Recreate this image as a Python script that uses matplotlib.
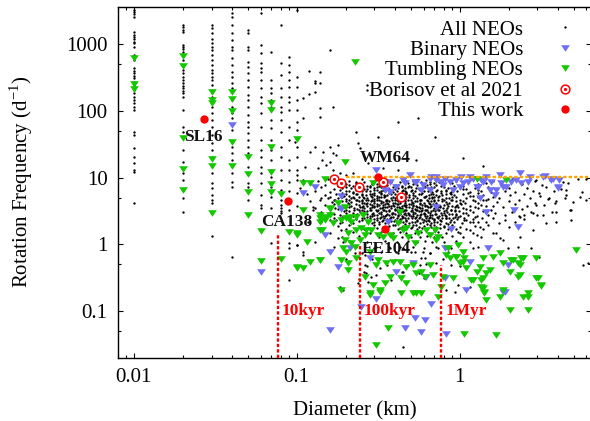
import matplotlib
matplotlib.use('Agg')
import matplotlib.pyplot as plt
from matplotlib.ticker import FixedLocator, FixedFormatter, LogLocator, NullFormatter

plt.rcParams['font.family'] = ['Liberation Serif', 'DejaVu Serif']
plt.rcParams['mathtext.fontset'] = 'custom'
plt.rcParams['mathtext.rm'] = 'Liberation Serif'

# ---------------- data (diameter in km, rotation frequency in 1/day) -------------
# All NEOs: quantised small diameters (columns)
neo_col_D = [0.01, 0.02, 0.03, 0.04, 0.05, 0.06, 0.07, 0.08, 0.09, 0.10]
neo_d010 = [3270, 3020, 2790, 2600, 1514, 1380, 1274, 1189, 1096, 1035, 923, 692, 638, 582,
            437, 403, 367, 335, 309, 275, 245, 226, 207, 184, 164, 146, 130, 116, 104, 49, 43.7,
            27.5, 20.7, 16.4, 13.0, 12.0, 4.1]
neo_d020 = [1950, 1800, 1640, 1514, 977, 923, 841, 776, 692, 582, 490, 412, 367, 327, 292, 260,
            237, 219, 202, 184, 164, 104, 58, 49, 26, 17.4, 11.6, 9.2, 6.5, 4.9, 3.1]
neo_d030 = [1950, 1738, 1462, 1189, 1035, 923, 822, 692, 582, 490, 412, 367, 327, 292, 245, 207,
            164, 116, 92, 73, 58, 43.7, 32.7, 26, 20.7, 11.6, 8.2, 6.9, 5.5, 4.6, 4.1, 1.33]
neo_d040 = [2985, 2600, 1950, 1462, 1161, 923, 822, 617, 490, 389, 327, 260, 219, 146, 116, 92,
            77.6, 51.9, 29.2, 23.2, 18.4, 11.6, 8.7, 7.3, 0.65]
neo_d050 = [1640, 1462, 923, 822, 550, 462, 367, 292, 232, 174, 146, 116, 87, 69, 58, 46, 36.7,
            29.2, 23.2, 14.6, 8.2, 7.3, 4.6]
neo_d060 = [2917, 977, 733, 519, 437, 389, 292, 219, 164, 130, 92, 58, 36.7, 26, 20.7, 14.6, 11.6,
            8.2, 5.5, 3.9, 3.5]
neo_d070 = [776, 292, 219, 184, 146, 116, 73, 55, 36.7, 26, 18.4, 13.0, 10.4, 7.3, 5.2, 3.5, 1.03]
neo_d080 = [1950, 519, 347, 219, 164, 116, 98, 73, 49, 29.2, 20.7, 13.0, 9.2, 6.5, 4.6, 3.9, 3.5,
            3.2, 3.0]
neo_d090 = [653, 490, 389, 292, 232, 164, 138, 104, 58, 36.7, 18.4, 13, 8.7, 6.2, 4.4, 3.27, 1.03,
            0.87, 0.29]
neo_d100 = [3270, 327, 232, 146, 104, 69, 52, 29, 20.7, 13, 9.2, 5.8, 3.7, 0.98]
neo_col_f = [neo_d010, neo_d020, neo_d030, neo_d040, neo_d050, neo_d060, neo_d070, neo_d080,
             neo_d090, neo_d100]

# All NEOs: larger bodies (D, f)
neo_sparse = [
    (0.16, 819), (0.119, 400), (0.139, 387), (0.129, 285), (0.129, 259), (0.139, 259), (0.129, 194),
    (0.119, 179), (0.109, 155), (0.167, 113), (0.139, 109), (0.109, 77.6), (0.139, 80), (0.27, 244),
    (0.27, 207), (0.555, 77.6), (0.418, 69), (0.232, 49), (0.703, 41), (0.315, 41), (0.179, 30.7),
    (0.097, 34.5), (0.129, 29), (0.16, 29), (0.12, 24.5), (0.145, 24.5), (0.167, 23.1), (0.175, 21.8),
    (0.142, 18.4), (0.16, 17.3), (0.238, 32.6), (0.244, 27.4), (0.274, 16.4), (0.542, 18.4),
    (0.112, 14.6), (0.135, 13.8), (0.152, 15.5), (0.167, 13.0), (0.184, 11.6), (0.202, 10.9),
    (0.222, 11.6), (0.338, 13.8), (0.418, 13.0), (0.1, 10.9), (1.05, 19.4), (1.39, 14.9),
    (3.09, 5.8), (3.56, 4.9), (3.83, 4.1), (4.41, 4.9), (4.52, 6.5), (4.96, 4.35), (5.45, 5.2),
    (6.0, 4.6), (4.73, 3.27), (3.9, 3.08), (3.24, 2.75), (2.75, 3.08), (2.5, 2.75), (2.95, 3.9),
    (6.0, 9.7), (2.95, 9.2),
    (0.83, 2.45), (0.93, 2.59), (1.07, 2.31), (1.21, 2.18), (1.33, 1.84), (1.15, 1.64), (1.0, 1.46),
    (1.46, 2.18), (1.89, 2.31), (2.33, 2.59), (2.82, 1.64), (3.4, 2.06), (3.9, 2.18), (4.84, 2.31),
    (1.68, 1.46), (1.84, 1.16), (1.27, 1.38), (1.76, 1.23), (2.33, 1.30), (1.98, 0.87), (2.28, 0.92),
    (2.75, 0.87), (3.09, 0.65), (5.7, 0.49), (6.1, 0.52), (1.21, 0.87), (0.89, 0.49), (0.83, 0.206),
    (0.93, 0.195), (0.98, 0.245), (1.15, 0.23),
    (0.1, 0.98), (0.109, 0.775), (0.109, 0.69), (0.117, 2.18), (0.175, 2.31), (0.184, 2.06),
    (0.179, 1.23), (0.192, 1.09), (0.188, 1.64), (0.227, 0.73), (0.262, 0.49), (0.268, 0.367),
    (0.308, 0.347), (0.274, 0.275), (0.449, 0.39), (0.482, 0.49), (0.569, 0.49), (0.596, 0.775),
    (0.61, 0.62), (0.655, 0.73), (0.72, 0.52), (0.736, 0.87), (0.184, 0.23), (0.238, 0.26),
    (0.323, 0.437), (0.409, 0.775), (0.372, 0.87), (0.308, 0.92), (0.262, 0.69), (0.428, 0.92),
    (0.53, 0.775), (0.126, 3.6), (0.126, 3.3), (0.139, 4.6), (0.156, 4.95), (0.171, 4.6),
    (0.171, 3.5), (0.45, 0.029), (0.192, 0.206), (0.287, 0.32),
]
neo_core = [
    (0.11, 9.3), (0.135, 8.8), (0.155, 9.5), (0.21, 8.9), (0.25, 9.4), (0.29, 8.7), (0.36, 9.1),
    (0.45, 9.6), (0.52, 8.8), (0.62, 9.3), (0.75, 8.6), (0.95, 9.0), (1.2, 9.4), (1.6, 8.9),
    (2.1, 9.5), (2.9, 8.8), (3.6, 9.2), (4.3, 8.7), (5.3, 9.4),
    (0.12, 8.1), (0.15, 7.7), (0.18, 8.3), (0.2, 7.9), (0.23, 8.2), (0.27, 7.6), (0.31, 8.0),
    (0.34, 8.4), (0.4, 7.8), (0.48, 8.2), (0.55, 7.7), (0.66, 8.1), (0.8, 7.9), (0.9, 8.3),
    (1.05, 7.6), (1.3, 8.0), (1.45, 8.3), (1.8, 7.7), (2.4, 8.1), (3.2, 7.8), (4.6, 8.2),
    (0.105, 7.0), (0.14, 7.2), (0.17, 6.8), (0.19, 7.1), (0.215, 6.9), (0.24, 7.3), (0.26, 6.7),
    (0.3, 7.0), (0.33, 7.2), (0.37, 6.8), (0.42, 7.1), (0.46, 6.9), (0.5, 7.3), (0.58, 6.8),
    (0.64, 7.0), (0.7, 7.2), (0.85, 6.9), (1.0, 7.1), (1.1, 6.7), (1.25, 7.0), (1.5, 7.2),
    (1.7, 6.8), (2.0, 7.1), (2.6, 6.9), (3.4, 7.2), (4.2, 6.8),
    (0.13, 6.3), (0.16, 6.0), (0.2, 6.4), (0.22, 6.1), (0.25, 6.2), (0.28, 6.4), (0.32, 6.0),
    (0.35, 6.3), (0.39, 6.1), (0.44, 6.4), (0.47, 6.0), (0.53, 6.2), (0.6, 6.4), (0.68, 6.0),
    (0.77, 6.3), (0.88, 6.1), (0.97, 6.4), (1.15, 6.0), (1.35, 6.3), (1.55, 6.1), (1.9, 6.3),
    (2.2, 6.0), (2.8, 6.2), (3.8, 6.4), (5.6, 6.1),
    (0.115, 5.6), (0.15, 5.4), (0.175, 5.7), (0.21, 5.3), (0.235, 5.6), (0.265, 5.4), (0.29, 5.7),
    (0.31, 5.3), (0.345, 5.5), (0.38, 5.7), (0.41, 5.3), (0.45, 5.6), (0.49, 5.4), (0.56, 5.7),
    (0.62, 5.3), (0.72, 5.5), (0.82, 5.7), (0.92, 5.4), (1.05, 5.6), (1.2, 5.3), (1.4, 5.5),
    (1.65, 5.7), (2.05, 5.4), (2.5, 5.6), (3.1, 5.3), (4.5, 5.5),
    (0.14, 4.9), (0.18, 5.0), (0.2, 4.8), (0.225, 5.0), (0.25, 4.7), (0.27, 5.0), (0.3, 4.8),
    (0.33, 5.1), (0.36, 4.7), (0.4, 4.9), (0.43, 5.1), (0.46, 4.8), (0.52, 5.0), (0.57, 4.7),
    (0.65, 4.9), (0.7, 5.1), (0.78, 4.8), (0.86, 5.0), (1.0, 4.7), (1.1, 4.9), (1.3, 5.1),
    (1.5, 4.8), (1.75, 5.0), (2.3, 4.7), (2.7, 5.0), (3.5, 4.8),
    (0.12, 4.4), (0.165, 4.3), (0.19, 4.5), (0.215, 4.3), (0.24, 4.5), (0.26, 4.2), (0.285, 4.4),
    (0.31, 4.6), (0.34, 4.3), (0.37, 4.5), (0.39, 4.2), (0.42, 4.4), (0.48, 4.6), (0.51, 4.3),
    (0.55, 4.5), (0.6, 4.2), (0.67, 4.4), (0.74, 4.6), (0.83, 4.3), (0.95, 4.5), (1.08, 4.2),
    (1.25, 4.4), (1.45, 4.6), (1.7, 4.3), (2.0, 4.5), (2.9, 4.2), (3.9, 4.4),
    (0.15, 3.9), (0.17, 4.0), (0.2, 3.8), (0.23, 4.0), (0.255, 3.8), (0.28, 4.0), (0.3, 3.7),
    (0.32, 3.9), (0.35, 4.0), (0.38, 3.8), (0.41, 4.0), (0.44, 3.7), (0.47, 3.9), (0.5, 4.0),
    (0.54, 3.8), (0.59, 3.9), (0.63, 3.7), (0.69, 4.0), (0.76, 3.8), (0.8, 3.9), (0.9, 3.7),
    (1.02, 4.0), (1.15, 3.8), (1.35, 3.9), (1.6, 3.7), (2.2, 4.0), (2.6, 3.8), (3.3, 3.9),
    (0.13, 3.5), (0.18, 3.4), (0.21, 3.6), (0.235, 3.4), (0.26, 3.5), (0.29, 3.6), (0.315, 3.3),
    (0.335, 3.5), (0.36, 3.6), (0.4, 3.4), (0.43, 3.5), (0.455, 3.3), (0.49, 3.6), (0.53, 3.4),
    (0.57, 3.5), (0.61, 3.3), (0.66, 3.6), (0.72, 3.4), (0.79, 3.5), (0.88, 3.3), (0.98, 3.6),
    (1.1, 3.4), (1.3, 3.5), (1.55, 3.3), (1.85, 3.6), (2.4, 3.4), (4.8, 3.3),
    (0.14, 3.1), (0.16, 3.0), (0.195, 3.2), (0.22, 3.0), (0.245, 3.1), (0.27, 3.2), (0.295, 3.0),
    (0.33, 3.1), (0.355, 3.2), (0.385, 3.0), (0.42, 3.1), (0.45, 3.2), (0.48, 2.95), (0.52, 3.1),
    (0.56, 3.2), (0.6, 3.0), (0.64, 3.1), (0.71, 3.2), (0.77, 2.95), (0.84, 3.1), (0.93, 3.2),
    (1.05, 3.0), (1.2, 3.1), (1.4, 3.2), (1.65, 3.0), (2.1, 3.1), (2.8, 3.0), (3.7, 3.1),
    (0.155, 2.75), (0.185, 2.8), (0.21, 2.7), (0.25, 2.85), (0.28, 2.7), (0.31, 2.8), (0.34, 2.65),
    (0.37, 2.75), (0.4, 2.85), (0.44, 2.7), (0.47, 2.8), (0.5, 2.65), (0.55, 2.75), (0.58, 2.85),
    (0.63, 2.7), (0.68, 2.8), (0.75, 2.65), (0.81, 2.75), (0.9, 2.85), (1.0, 2.7), (1.12, 2.8),
    (1.28, 2.65), (1.5, 2.75), (1.9, 2.8), (2.3, 2.7), (3.0, 2.8),
    (0.17, 2.45), (0.2, 2.5), (0.23, 2.4), (0.26, 2.5), (0.3, 2.4), (0.325, 2.5), (0.36, 2.4),
    (0.39, 2.55), (0.43, 2.4), (0.46, 2.5), (0.51, 2.45), (0.54, 2.55), (0.59, 2.4), (0.65, 2.5),
    (0.7, 2.4), (0.78, 2.5), (0.86, 2.45), (0.96, 2.4), (1.07, 2.5), (1.2, 2.4), (1.38, 2.5),
    (1.6, 2.45), (2.5, 2.4),
    (0.14, 2.15), (0.19, 2.2), (0.22, 2.1), (0.27, 2.2), (0.29, 2.1), (0.32, 2.2), (0.35, 2.1),
    (0.38, 2.25), (0.41, 2.1), (0.45, 2.2), (0.49, 2.1), (0.53, 2.2), (0.57, 2.1), (0.62, 2.25),
    (0.67, 2.1), (0.73, 2.2), (0.82, 2.1), (0.92, 2.2), (1.03, 2.1), (1.15, 2.2), (1.3, 2.15),
    (1.75, 2.1), (2.2, 2.2),
    (0.18, 1.9), (0.21, 1.95), (0.25, 1.85), (0.3, 1.95), (0.34, 1.85), (0.37, 1.9), (0.4, 1.95),
    (0.44, 1.85), (0.48, 1.9), (0.52, 1.95), (0.56, 1.85), (0.6, 1.9), (0.66, 1.95), (0.72, 1.85),
    (0.8, 1.9), (0.9, 1.95), (1.0, 1.85), (1.25, 1.9), (1.5, 1.95), (2.0, 1.85),
    (0.2, 1.7), (0.26, 1.68), (0.31, 1.73), (0.36, 1.66), (0.42, 1.72), (0.46, 1.68), (0.5, 1.74),
    (0.55, 1.67), (0.62, 1.71), (0.7, 1.66), (0.76, 1.73), (0.85, 1.68), (0.95, 1.72), (1.1, 1.67),
    (1.4, 1.7),
    (0.16, 1.5), (0.22, 1.52), (0.28, 1.47), (0.33, 1.53), (0.39, 1.48), (0.43, 1.52), (0.47, 1.46),
    (0.53, 1.5), (0.58, 1.54), (0.65, 1.47), (0.74, 1.51), (0.82, 1.47), (0.98, 1.53), (1.2, 1.48),
    (1.6, 1.5),
    (0.19, 1.3), (0.24, 1.33), (0.32, 1.28), (0.38, 1.32), (0.44, 1.27), (0.5, 1.31), (0.57, 1.29),
    (0.63, 1.33), (0.7, 1.27), (0.78, 1.3), (0.9, 1.33), (1.05, 1.28), (1.35, 1.3),
    (0.13, 1.1), (0.21, 1.12), (0.27, 1.08), (0.35, 1.11), (0.41, 1.07), (0.48, 1.12), (0.55, 1.09),
    (0.61, 1.11), (0.68, 1.07), (0.8, 1.1), (0.95, 1.12), (1.15, 1.08),
    (0.17, 0.9), (0.23, 0.92), (0.3, 0.88), (0.37, 0.91), (0.45, 0.87), (0.52, 0.92), (0.6, 0.89),
    (0.72, 0.91), (0.88, 0.88), (1.3, 0.9),
    (0.25, 0.75), (0.33, 0.76), (0.42, 0.73), (0.5, 0.77), (0.66, 0.74), (0.85, 0.76), (0.2, 0.6),
    (0.29, 0.61), (0.4, 0.59), (0.58, 0.62), (0.79, 0.6), (0.27, 0.48), (0.36, 0.49), (0.47, 0.47),
    (0.62, 0.5), (1.0, 0.48), (0.26, 0.38), (0.44, 0.39), (0.56, 0.37), (0.24, 0.3), (0.38, 0.29),
    (0.6, 0.31), (0.33, 0.2),
    (0.19, 8.5), (0.26, 8.6), (0.33, 8.4), (0.43, 8.6), (0.58, 8.5), (0.7, 8.4),
    (0.18, 7.5), (0.22, 7.4), (0.28, 7.6), (0.32, 7.5), (0.35, 7.4), (0.44, 7.6), (0.49, 7.4),
    (0.6, 7.5), (0.77, 7.6), (0.92, 7.4),
    (0.185, 6.6), (0.23, 6.5), (0.27, 6.7), (0.31, 6.6), (0.34, 6.5), (0.4, 6.7), (0.45, 6.5),
    (0.51, 6.6), (0.56, 6.7), (0.73, 6.5), (0.83, 6.6), (1.05, 6.7), (1.3, 6.5),
    (0.19, 5.8), (0.22, 5.9), (0.25, 5.75), (0.3, 5.85), (0.33, 5.8), (0.37, 5.9), (0.43, 5.75),
    (0.47, 5.85), (0.52, 5.8), (0.59, 5.9), (0.67, 5.75), (0.77, 5.85), (0.87, 5.8), (1.12, 5.9),
    (1.3, 5.8),
    (0.16, 5.2), (0.195, 5.25), (0.22, 5.15), (0.255, 5.2), (0.285, 5.3), (0.32, 5.15), (0.35, 5.25),
    (0.39, 5.2), (0.42, 5.3), (0.47, 5.15), (0.53, 5.25), (0.6, 5.2), (0.68, 5.15), (0.75, 5.3),
    (0.9, 5.2), (1.15, 5.25), (1.6, 5.2),
    (0.17, 4.6), (0.21, 4.65), (0.235, 4.55), (0.265, 4.7), (0.29, 4.6), (0.32, 4.55), (0.355, 4.65),
    (0.385, 4.6), (0.41, 4.7), (0.44, 4.55), (0.5, 4.65), (0.58, 4.6), (0.63, 4.7), (0.7, 4.55),
    (0.8, 4.65), (0.9, 4.6), (1.2, 4.55), (1.4, 4.7),
    (0.18, 4.15), (0.205, 4.2), (0.25, 4.1), (0.27, 4.2), (0.3, 4.15), (0.33, 4.1), (0.36, 4.2),
    (0.4, 4.15), (0.43, 4.1), (0.46, 4.2), (0.52, 4.15), (0.57, 4.1), (0.65, 4.2), (0.72, 4.15),
    (0.86, 4.1), (1.0, 4.2), (1.3, 4.15),
    (0.19, 3.7), (0.215, 3.75), (0.245, 3.65), (0.27, 3.7), (0.31, 3.75), (0.34, 3.65), (0.37, 3.7),
    (0.395, 3.75), (0.425, 3.65), (0.46, 3.7), (0.52, 3.75), (0.56, 3.65), (0.61, 3.7), (0.67, 3.75),
    (0.74, 3.65), (0.85, 3.7), (0.95, 3.75), (1.25, 3.65), (1.45, 3.7),
    (0.2, 3.3), (0.225, 3.28), (0.25, 3.33), (0.28, 3.27), (0.305, 3.32), (0.345, 3.28), (0.37, 3.33),
    (0.41, 3.27), (0.44, 3.32), (0.47, 3.28), (0.51, 3.33), (0.55, 3.27), (0.59, 3.3), (0.63, 3.33),
    (0.69, 3.27), (0.75, 3.3), (0.83, 3.32), (0.93, 3.27), (1.15, 3.3),
    (0.17, 2.9), (0.2, 2.93), (0.235, 2.88), (0.26, 2.92), (0.29, 2.87), (0.32, 2.93), (0.36, 2.88),
    (0.39, 2.92), (0.43, 2.87), (0.46, 2.93), (0.49, 2.88), (0.53, 2.92), (0.6, 2.87), (0.66, 2.93),
    (0.72, 2.88), (0.8, 2.92), (0.95, 2.9), (1.1, 2.93),
    (0.19, 2.6), (0.22, 2.62), (0.27, 2.58), (0.29, 2.63), (0.33, 2.58), (0.35, 2.62), (0.38, 2.6),
    (0.42, 2.63), (0.45, 2.58), (0.52, 2.62), (0.57, 2.58), (0.61, 2.63), (0.66, 2.6), (0.73, 2.58),
    (0.83, 2.62), (0.98, 2.6), (1.25, 2.58),
    (0.16, 2.3), (0.21, 2.32), (0.25, 2.28), (0.28, 2.33), (0.31, 2.28), (0.34, 2.32), (0.37, 2.3),
    (0.4, 2.33), (0.43, 2.28), (0.47, 2.32), (0.55, 2.3), (0.6, 2.28), (0.64, 2.33), (0.7, 2.3),
    (0.76, 2.28), (0.88, 2.32), (1.1, 2.3),
]
neo_core_dense = [
    (0.23, 8.75), (0.3, 8.9), (0.38, 8.7), (0.47, 8.85), (0.55, 8.95), (0.66, 8.7),
    (0.21, 7.85), (0.25, 7.75), (0.29, 7.9), (0.36, 7.8), (0.42, 7.7), (0.52, 7.9), (0.63, 7.8),
    (0.72, 7.75),
    (0.2, 7.25), (0.23, 7.15), (0.28, 7.2), (0.31, 7.3), (0.35, 7.1), (0.39, 7.25), (0.44, 7.15),
    (0.48, 7.3), (0.54, 7.1), (0.61, 7.25), (0.67, 7.15), (0.8, 7.2),
    (0.21, 6.35), (0.24, 6.45), (0.265, 6.3), (0.3, 6.45), (0.33, 6.35), (0.37, 6.45), (0.41, 6.3),
    (0.46, 6.4), (0.5, 6.3), (0.57, 6.45), (0.64, 6.35), (0.72, 6.4), (0.82, 6.3),
    (0.2, 5.6), (0.23, 5.65), (0.25, 5.5), (0.28, 5.65), (0.3, 5.55), (0.33, 5.6), (0.36, 5.5),
    (0.4, 5.65), (0.44, 5.55), (0.47, 5.6), (0.52, 5.5), (0.58, 5.65), (0.65, 5.55), (0.69, 5.6),
    (0.78, 5.5), (0.88, 5.6),
    (0.19, 5.05), (0.215, 4.95), (0.24, 5.05), (0.26, 4.95), (0.29, 5.05), (0.31, 4.95),
    (0.345, 5.05), (0.38, 4.95), (0.41, 5.05), (0.45, 4.95), (0.49, 5.05), (0.55, 4.95),
    (0.61, 5.05), (0.68, 4.95), (0.74, 5.05), (0.82, 4.95), (0.95, 5.05),
    (0.2, 4.45), (0.23, 4.55), (0.25, 4.45), (0.275, 4.55), (0.3, 4.45), (0.33, 4.5), (0.355, 4.45),
    (0.4, 4.55), (0.43, 4.45), (0.46, 4.5), (0.53, 4.45), (0.57, 4.55), (0.64, 4.45), (0.7, 4.5),
    (0.78, 4.45), (0.88, 4.55), (1.05, 4.45),
    (0.21, 4.05), (0.24, 3.95), (0.265, 4.05), (0.29, 3.95), (0.31, 4.05), (0.34, 3.95),
    (0.365, 4.05), (0.39, 3.95), (0.42, 4.05), (0.455, 3.95), (0.49, 4.05), (0.52, 3.95),
    (0.57, 4.05), (0.61, 3.95), (0.66, 4.05), (0.72, 3.95), (0.84, 4.05), (0.97, 3.95),
    (0.2, 3.6), (0.225, 3.55), (0.25, 3.62), (0.28, 3.55), (0.3, 3.62), (0.325, 3.55), (0.35, 3.62),
    (0.38, 3.55), (0.415, 3.62), (0.44, 3.55), (0.47, 3.62), (0.51, 3.55), (0.55, 3.62),
    (0.59, 3.55), (0.64, 3.62), (0.7, 3.55), (0.76, 3.62), (0.84, 3.55), (0.93, 3.62), (1.05, 3.55),
    (0.21, 3.18), (0.24, 3.22), (0.26, 3.15), (0.285, 3.22), (0.31, 3.18), (0.34, 3.22),
    (0.37, 3.15), (0.4, 3.22), (0.435, 3.15), (0.465, 3.22), (0.5, 3.15), (0.54, 3.22),
    (0.58, 3.15), (0.62, 3.22), (0.67, 3.15), (0.74, 3.22), (0.8, 3.15), (0.88, 3.22), (0.99, 3.15),
    (0.23, 2.78), (0.27, 2.82), (0.3, 2.76), (0.33, 2.82), (0.355, 2.76), (0.385, 2.82),
    (0.42, 2.76), (0.455, 2.82), (0.49, 2.76), (0.52, 2.82), (0.57, 2.76), (0.61, 2.82),
    (0.66, 2.76), (0.71, 2.82), (0.78, 2.76), (0.86, 2.82), (0.95, 2.76),
    (0.25, 2.52), (0.28, 2.48), (0.31, 2.52), (0.345, 2.48), (0.375, 2.52), (0.41, 2.48),
    (0.445, 2.52), (0.48, 2.48), (0.53, 2.52), (0.56, 2.48), (0.62, 2.52), (0.68, 2.48),
    (0.74, 2.52), (0.82, 2.48), (0.91, 2.52),
    (0.24, 2.22), (0.3, 2.18), (0.335, 2.22), (0.365, 2.18), (0.395, 2.22), (0.43, 2.18),
    (0.47, 2.22), (0.51, 2.18), (0.55, 2.22), (0.595, 2.18), (0.645, 2.22), (0.7, 2.18),
    (0.77, 2.22), (0.87, 2.18),
    (0.32, 2.02), (0.39, 1.98), (0.46, 2.02), (0.54, 1.98), (0.63, 2.02), (0.7, 1.98), (0.76, 2.0),
    (0.85, 2.02), (0.35, 1.8), (0.43, 1.78), (0.51, 1.82), (0.59, 1.78), (0.67, 1.8), (0.8, 1.82),
    (0.9, 1.78),
]

# Binary NEOs
binary = [
    (0.04, 61.5), (0.06, 0.39), (0.109, 5.8), (0.129, 7.3), (0.188, 5.3), (0.188, 3.35),
    (0.308, 13.0), (0.347, 6.5), (0.372, 6.1), (0.409, 7.3), (0.46, 8.2), (0.494, 10.9),
    (0.542, 8.7), (0.596, 7.7), (0.67, 10.3), (0.72, 9.2), (0.655, 6.5), (0.582, 6.5),
    (0.809, 9.7), (0.868, 8.7), (0.954, 9.2), (1.02, 10.3), (1.12, 8.7), (1.21, 9.7), (1.30, 7.3),
    (1.36, 9.2), (1.46, 10.3), (1.56, 8.7), (1.68, 6.5), (1.76, 10.9), (1.80, 8.2), (1.93, 7.3),
    (2.08, 8.7), (2.23, 9.2), (2.33, 11.6), (2.39, 8.2), (2.62, 8.7), (2.69, 10.3), (3.32, 10.6),
    (3.74, 9.7), (4.01, 7.3), (4.1, 9.2), (0.79, 7.7), (0.91, 6.5), (1.0, 7.3), (1.33, 4.9),
    (1.46, 3.08), (2.17, 3.27), (1.64, 5.5), (3.24, 10.3), (3.65, 9.2), (4.0, 6.9),
    (0.372, 8.7), (0.449, 9.2), (0.53, 8.7), (0.655, 9.7), (0.72, 10.3), (0.77, 8.7),
    (1.05, 8.2), (1.15, 10.3), (1.27, 7.3), (1.39, 8.7), (1.53, 6.5), (1.84, 7.3), (0.72, 3.66),
    (0.149, 1.38), (0.16, 0.775), (0.179, 0.46), (0.211, 0.87), (0.28, 0.62), (0.363, 2.18),
    (0.409, 0.39), (0.517, 0.52), (0.625, 0.327),
    (0.16, 0.052), (0.249, 0.116), (0.308, 0.15), (0.46, 0.055), (0.53, 0.078), (0.61, 0.073),
    (0.582, 0.049), (0.67, 0.127), (0.83, 0.046), (1.1, 0.206), (1.84, 0.195), (1.49, 0.87),
    (2.28, 1.8), (1.98, 0.49), (0.89, 1.7), (0.81, 0.87), (1.15, 0.55), (0.81, 0.31),
    (1.89, 0.19), (0.188, 3.46),
]

# Tumbling NEOs
tumbling = [
    (0.01, 615), (0.01, 253), (0.01, 210), (0.02, 672), (0.02, 471), (0.02, 38.8), (0.02, 13.5),
    (0.02, 6.5), (0.03, 194), (0.03, 146), (0.03, 133), (0.03, 18.8), (0.03, 15.1), (0.03, 3.0),
    (0.04, 194), (0.04, 149), (0.04, 101), (0.04, 34.5), (0.04, 15.1), (0.05, 20.1), (0.05, 11.3),
    (0.05, 6.0), (0.05, 2.75), (0.06, 1.6), (0.06, 0.57), (0.07, 130), (0.07, 103), (0.07, 29),
    (0.07, 12.0), (0.07, 8.0), (0.07, 6.15), (0.08, 5.7), (0.08, 0.6), (0.09, 1.55), (0.1, 37.5),
    (0.1, 1.46), (0.1, 0.46),
    (0.227, 547), (0.197, 17.3), (0.149, 9.7), (0.109, 8.4), (0.12, 8.4), (0.109, 3.3),
    (0.294, 8.2), (0.179, 4.1), (0.197, 3.66), (0.16, 3.46), (0.139, 2.75), (0.16, 2.75),
    (0.211, 2.6), (0.232, 2.6), (0.255, 2.75), (0.428, 3.08), (1.27, 9.7), (1.93, 9.2),
    (0.16, 3.35), (0.139, 2.45),
    (0.1, 1.38), (0.139, 2.18), (0.152, 2.59), (0.142, 1.64), (0.202, 2.45), (0.216, 2.18),
    (0.232, 1.64), (0.249, 1.74), (0.268, 1.64), (0.274, 2.18), (0.287, 1.64), (0.315, 1.38),
    (0.338, 1.30), (0.372, 1.38), (0.39, 1.23), (0.418, 2.06), (0.449, 1.64), (0.471, 1.74),
    (0.482, 1.30), (0.53, 1.03), (0.555, 1.46), (0.625, 1.64), (0.655, 1.38), (0.703, 1.64),
    (0.72, 1.16), (0.736, 1.30), (0.1, 0.437), (0.109, 0.437), (0.12, 0.55), (0.139, 0.58),
    (0.188, 0.58), (0.207, 0.52), (0.207, 0.41), (0.232, 0.62), (0.244, 1.16), (0.227, 0.92),
    (0.192, 0.87), (0.202, 0.775), (0.28, 0.775), (0.315, 0.58), (0.308, 0.49), (0.355, 0.52),
    (0.39, 0.55), (0.428, 0.55), (0.471, 0.46), (0.517, 0.49), (0.542, 0.367), (0.582, 0.39),
    (0.61, 0.327), (0.655, 0.49), (0.686, 0.347), (0.372, 0.327), (0.439, 0.31), (0.471, 0.26),
    (0.262, 0.327), (0.294, 0.245), (0.347, 0.26), (0.28, 0.184), (0.323, 0.195), (0.439, 0.184),
    (0.517, 0.184), (0.582, 0.184), (0.188, 0.206), (0.115, 1.09),
    (0.149, 2.33), (0.167, 2.06), (0.188, 2.33), (0.207, 2.45), (0.207, 1.46), (0.197, 1.16),
    (0.216, 1.03), (0.262, 1.38), (0.139, 0.58), (0.139, 1.64),
    (0.323, 0.206), (0.28, 0.174), (0.542, 0.184), (0.363, 0.055), (0.308, 0.031), (1.07, 0.046),
    (1.68, 0.044), (2.03, 0.104), (2.62, 0.104), (3.02, 0.31), (3.17, 0.237), (5.2, 0.82),
    (2.95, 0.62), (2.45, 0.62), (2.33, 0.49), (2.12, 0.58), (2.28, 0.327), (2.62, 0.164),
    (2.45, 0.164), (1.76, 0.164), (1.42, 0.184), (1.46, 0.147), (1.39, 0.22), (1.36, 0.29),
    (1.27, 0.39), (1.18, 0.29), (1.05, 0.55), (0.954, 0.65), (0.83, 0.69), (0.736, 0.164),
    (0.848, 0.87), (0.976, 0.975), (1.05, 0.775), (0.954, 0.65), (0.868, 0.62), (1.07, 0.62),
    (1.0, 0.52), (1.1, 0.437), (1.39, 0.62), (1.6, 0.65), (1.76, 0.73), (1.33, 0.46), (1.53, 0.41),
    (1.46, 0.367), (1.84, 0.52), (2.08, 0.58), (2.28, 0.52), (2.39, 0.62), (2.03, 0.39),
    (2.33, 0.347), (2.95, 0.31), (3.17, 0.245), (0.91, 0.31), (1.21, 0.29), (1.39, 0.31),
    (1.36, 0.23), (1.42, 0.19), (1.84, 0.206), (2.62, 0.184), (0.79, 0.327), (0.77, 0.23),
]

# Borisov et al. 2021 and this work
bor_D = [0.169, 0.186, 0.241, 0.338, 0.435]
bor_f = [9.4, 8.2, 7.2, 8.6, 5.1]
tw_names = ['SL16', 'WM64', 'CA138', 'EE104']
tw_D = [0.027, 0.315, 0.0885, 0.347]
tw_f = [76, 10.1, 4.5, 1.7]
label_D = [0.0203, 0.244, 0.0605, 0.249]
label_f = [40, 19.4, 2.16, 0.86]

# spin barrier and YORP-timescale markers
barrier_f = 10.4
barrier_D = [0.2, 6.5]
yorp_D = [0.077, 0.244, 0.77]
yorp_top = [1.46, 1.0, 0.49]
yorp_labels = ['10kyr', '100kyr', '1Myr']
yorp_label_D = [0.0805, 0.258, 0.82]
yorp_label_f = 0.1

x_ticks = [0.01, 0.1, 1]
x_tick_labels = ['0.01', '0.1', '1']
y_ticks = [0.1, 1, 10, 100, 1000]
y_tick_labels = ['0.1', '1', '10', '100', '1000']
y_minor = [0.05, 0.5, 5, 50, 500]
xlim = (0.008, 6.4)
ylim = (0.02, 3650)

# ---------------- assemble ----------------
all_D, all_f = [], []
for d, fs in zip(neo_col_D, neo_col_f):
    all_D += [d] * len(fs)
    all_f += fs
for d, f in neo_sparse + neo_core + neo_core_dense:
    all_D.append(d)
    all_f.append(f)
bin_D = [p[0] for p in binary]
bin_f = [p[1] for p in binary]
tum_D = [p[0] for p in tumbling]
tum_f = [p[1] for p in tumbling]

# ---------------- plot ----------------
fig = plt.figure(figsize=(5.9, 4.21), dpi=100)
ax = fig.add_axes([118 / 590, 1 - 357.7 / 421, (591 - 118) / 590, (357.7 - 6.7) / 421])
ax.set_xscale('log')
ax.set_yscale('log')
ax.set_xlim(*xlim)
ax.set_ylim(*ylim)

tri = [(-1, 0.75), (1, 0.75), (0, -0.75)]
blue = '#6f6ff4'
green = '#14c800'

h_all, = ax.plot(all_D, all_f, 'o', ms=1.7, mfc='black', mec='none', ls='none', zorder=2)
h_bin, = ax.plot(bin_D, bin_f, marker=tri, ms=6.3, mfc=blue, mec='none', ls='none', zorder=3)
h_tum, = ax.plot(tum_D, tum_f, marker=tri, ms=6.3, mfc=green, mec='none', ls='none', zorder=4)
ax.plot(barrier_D, [barrier_f, barrier_f], color='#ffa500', lw=1.7, ls=(0, (1.4, 0.9)), zorder=5)
for d, top in zip(yorp_D, yorp_top):
    ax.plot([d, d], [ylim[0], top], color='red', lw=1.7, ls=(0, (1.4, 0.9)), zorder=5)
h_bor1, = ax.plot(bor_D, bor_f, 'o', ms=6.3, mfc='white', mec='red', mew=1.1, ls='none', zorder=6)
h_bor2, = ax.plot(bor_D, bor_f, 'o', ms=2.3, mfc='red', mec='none', ls='none', zorder=7)
h_tw, = ax.plot(tw_D, tw_f, 'o', ms=6.0, mfc='red', mec='none', ls='none', zorder=7)

for name, d, f in zip(tw_names, label_D, label_f):
    ax.text(d, f, name, fontsize=12.4, fontweight='bold', color='#111111', ha='left',
            va='center', zorder=8)
for name, d in zip(yorp_labels, yorp_label_D):
    ax.text(d, yorp_label_f, name, fontsize=12.4, fontweight='bold', color='red', ha='left',
            va='center', zorder=8)

ax.xaxis.set_major_locator(FixedLocator(x_ticks))
ax.xaxis.set_major_formatter(FixedFormatter(x_tick_labels))
ax.xaxis.set_minor_locator(LogLocator(base=10, subs=range(2, 10), numticks=20))
ax.xaxis.set_minor_formatter(NullFormatter())
ax.yaxis.set_major_locator(FixedLocator(y_ticks))
ax.yaxis.set_major_formatter(FixedFormatter(y_tick_labels))
ax.yaxis.set_minor_locator(FixedLocator(y_minor))
ax.yaxis.set_minor_formatter(NullFormatter())
ax.tick_params(which='both', direction='in', top=True, right=True, labelsize=15, pad=7.5,
               width=0.8, color='black')
ax.tick_params(which='major', length=3.8)
ax.tick_params(which='minor', length=1.9)
for s in ax.spines.values():
    s.set_linewidth(1.0)

ax.set_xlabel('Diameter (km)', fontsize=15)
ax.set_ylabel('Rotation Frequency (d$^{\\mathregular{-1}}$)', fontsize=15)
ax.xaxis.set_label_coords(0.5, -0.125)
ax.yaxis.set_label_coords(-0.1765, 0.5)

leg = ax.legend([h_all, h_bin, h_tum, (h_bor1, h_bor2), h_tw],
                ['All NEOs', 'Binary NEOs', 'Tumbling NEOs', 'Borisov et al 2021', 'This work'],
                loc='upper right', bbox_to_anchor=(575.4 / 590, 1 - 20.0 / 421),
                bbox_transform=fig.transFigure, frameon=False, markerfirst=False,
                fontsize=15, handlelength=1.0, handletextpad=1.52, labelspacing=0.04,
                borderpad=0, borderaxespad=0, numpoints=1)
leg.set_zorder(9)

fig.savefig('out.png', dpi=100)
